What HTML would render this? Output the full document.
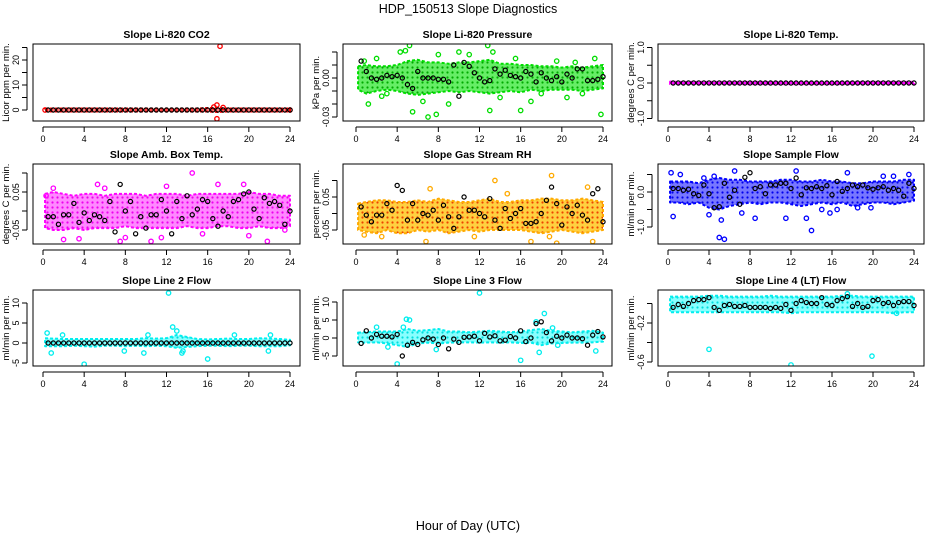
<!DOCTYPE html>
<html><head><meta charset="utf-8">
<style>
html,body{margin:0;padding:0;background:#fff;}
svg{display:block;font-family:"Liberation Sans",sans-serif;}
</style></head>
<body>
<svg id="c" width="936" height="540" xmlns="http://www.w3.org/2000/svg">
<defs id="defs"></defs>
<text x="468" y="13" text-anchor="middle" font-size="12.5">HDP_150513  Slope Diagnostics</text>
<text x="468" y="530" text-anchor="middle" font-size="12.5">Hour of Day (UTC)</text>
</svg>
<script>
// ---- shared data ----
const bandHours=[0.2,1,2,3,4,5,6,7,8,9,10,11,12,13,14,15,16,17,18,19,20,21,22,23,24];
const blackHours=[0.5,1,1.5,2,2.5,3,3.5,4,4.5,5,5.5,6,6.5,7,7.5,8,8.5,9,9.5,10,10.5,11,11.5,12,12.5,13,13.5,14,14.5,15,15.5,16,16.5,17,17.5,18,18.5,19,19.5,20,20.5,21,21.5,22,22.5,23,23.5,24];
const xTicks=[0,4,8,12,16,20,24];

// Panel 1: CO2
const co2Lo=[-0.6,-0.6,-0.6,-0.6,-0.6,-0.6,-0.6,-0.6,-0.6,-0.6,-0.6,-0.6,-0.6,-0.6,-0.6,-0.6,-0.6,-0.8,-0.6,-0.6,-0.6,-0.6,-0.6,-0.6,-0.6];
const co2Hi=[0.6,0.6,0.6,0.6,0.6,0.6,0.6,0.6,0.6,0.6,0.6,0.6,0.6,0.6,0.6,0.6,0.8,0.9,0.6,0.6,0.6,0.6,0.6,0.6,0.6];
const co2OutH=[17.2,16.9,16.9,17.5,16.6,0.2,24];
const co2OutV=[25.5,-3.5,2,1,1.2,0,0];
const co2Black=[0,0,0,0,0,0,0,0,0,0,0,0,0,0,0,0,0,0,0,0,0,0,0,0,0,0,0,0,0,0,0,0,0,0,0,0,0,0,0,0,0,0,0,0,0,0,0,0];
const co2Ticks=[0,5,10,15,20,25];
const co2Labels=["0","","10","","20",""];

// Panel 2: Pressure
const prLo=[-0.009,-0.012,-0.01,-0.009,-0.01,-0.012,-0.013,-0.012,-0.011,-0.01,-0.011,-0.01,-0.011,-0.012,-0.011,-0.01,-0.011,-0.009,-0.01,-0.009,-0.009,-0.009,-0.01,-0.009,-0.008];
const prHi=[0.009,0.01,0.009,0.009,0.01,0.013,0.014,0.012,0.012,0.011,0.012,0.012,0.013,0.014,0.011,0.011,0.01,0.01,0.009,0.009,0.008,0.009,0.008,0.009,0.01];
const prOutH=[5.2,7,5.5,7.8,4.8,10,12.8,13,16,23.8,1.2,2,6.5,13.3,17,20.5,23.2,9,3,15.5,11,18,22,8,4.3,19.5,0.8,14,2.5,21.3];
const prOutV=[0.025,-0.03,-0.026,-0.028,0.021,0.02,0.025,-0.025,-0.025,-0.028,-0.02,0.015,-0.018,0.02,-0.018,-0.015,0.015,-0.02,-0.012,0.015,0.018,-0.012,-0.012,0.018,0.02,0.013,0.013,-0.015,-0.014,0.012];
const prBlack=[0.013,0.005,0,-0.001,0,0.002,0.001,0.002,0,-0.005,-0.008,0.005,0,0,0,-0.001,-0.001,-0.003,0.01,-0.014,0.012,0.009,0.004,0,-0.003,-0.002,0.007,0.003,0.006,0.002,0.001,0,0.005,0.003,-0.003,0.004,0,-0.002,0.001,-0.003,0.003,0,0.007,0.007,-0.002,-0.002,-0.001,0.001];
const prTicks=[-0.03,-0.02,-0.01,0,0.01,0.02];
const prLabels=["-0.03","","","0.00","",""];

// Panel 3: Li-820 Temp
const tLo=[-0.03,-0.03,-0.03,-0.03,-0.03,-0.03,-0.03,-0.03,-0.03,-0.03,-0.03,-0.03,-0.03,-0.03,-0.03,-0.03,-0.03,-0.03,-0.03,-0.03,-0.03,-0.03,-0.03,-0.03,-0.03];
const tHi=[0.04,0.03,0.03,0.03,0.03,0.03,0.03,0.03,0.03,0.03,0.03,0.03,0.03,0.03,0.03,0.03,0.03,0.03,0.03,0.03,0.03,0.03,0.03,0.03,0.03];
const tOutH=[];
const tOutV=[];
const tBlack=co2Black.slice();
const tTicks=[-1,-0.5,0,0.5,1];
const tLabels=["-1.0","","0.0","","1.0"];

// Panel 4: Amb Box Temp
const abLo=[-0.045,-0.05,-0.05,-0.045,-0.05,-0.045,-0.045,-0.045,-0.04,-0.045,-0.045,-0.045,-0.045,-0.045,-0.04,-0.045,-0.045,-0.04,-0.04,-0.045,-0.045,-0.04,-0.045,-0.045,-0.04];
const abHi=[0.045,0.05,0.045,0.04,0.045,0.045,0.04,0.045,0.045,0.045,0.04,0.045,0.045,0.045,0.04,0.045,0.045,0.045,0.045,0.045,0.05,0.045,0.045,0.04,0.04];
const abOutH=[14.5,2,3.5,5.3,7.5,8,10.5,11.5,17,19.5,21.8,23.5,1,6,12,15.5,20,0.3];
const abOutV=[0.1,-0.075,-0.073,0.07,-0.08,-0.07,-0.08,-0.07,0.07,0.07,-0.08,-0.05,0.06,0.06,0.065,-0.06,-0.065,0.04];
const abBlack=[-0.015,-0.015,-0.035,-0.01,-0.01,0.02,-0.03,-0.005,-0.025,-0.01,-0.015,-0.025,0.025,-0.055,0.07,0.0,0.025,-0.06,-0.015,-0.045,-0.01,-0.01,0.03,0.0,-0.06,0.025,-0.02,0.04,-0.01,0.005,0.03,0.025,-0.02,-0.04,0.0,-0.015,0.025,0.03,0.045,0.05,0.005,-0.02,0.035,0.02,0.025,0.015,-0.035,0.0];
const abTicks=[-0.05,0,0.05,0.1];
const abLabels=["-0.05","","0.05",""];

// Panel 5: Gas Stream RH
const rhLo=[-0.05,-0.055,-0.06,-0.05,-0.06,-0.06,-0.05,-0.055,-0.05,-0.06,-0.055,-0.05,-0.055,-0.05,-0.05,-0.05,-0.05,-0.055,-0.06,-0.055,-0.05,-0.055,-0.06,-0.055,-0.05];
const rhHi=[0.03,0.035,0.04,0.04,0.035,0.035,0.04,0.035,0.045,0.04,0.035,0.035,0.04,0.045,0.035,0.035,0.04,0.04,0.045,0.045,0.04,0.04,0.045,0.04,0.035];
const rhOutH=[4,13.5,19,17,2.5,6.8,7.2,22.5,23,14.7,18.8,19.5,11.5,0.8];
const rhOutV=[-0.1,0.1,0.115,-0.085,-0.07,-0.085,0.075,0.08,-0.085,0.06,-0.07,-0.09,-0.07,-0.065];
const rhBlack=[0.02,-0.005,-0.025,-0.005,-0.005,0.03,0.01,0.085,0.07,-0.02,0.03,-0.02,0.0,-0.005,0.01,-0.02,0.025,-0.01,-0.045,-0.01,0.05,0.01,0.01,0.0,-0.01,0.045,-0.02,-0.045,0.015,-0.015,0.0,0.015,-0.03,-0.03,-0.025,0.0,0.04,0.08,0.03,-0.035,0.02,0.0,0.025,-0.005,-0.02,0.06,0.075,-0.025];
const rhTicks=[-0.05,0,0.05,0.1];
const rhLabels=["-0.05","","0.05",""];

// Panel 6: Sample Flow
const sfLo=[-0.3,-0.3,-0.35,-0.3,-0.45,-0.5,-0.4,-0.35,-0.3,-0.35,-0.3,-0.3,-0.35,-0.4,-0.35,-0.3,-0.35,-0.3,-0.4,-0.35,-0.3,-0.3,-0.35,-0.3,-0.25];
const sfHi=[0.3,0.3,0.3,0.25,0.35,0.4,0.35,0.35,0.3,0.3,0.3,0.35,0.35,0.3,0.3,0.35,0.3,0.3,0.25,0.25,0.3,0.3,0.3,0.35,0.35];
const sfOutH=[0.3,0.5,1.2,4,4.5,5,5.5,3.5,5.2,8.5,7.2,12.5,14,15,15.8,16.5,19.8,21,22,23.5,6.5,11.5,13.5,17.5,18.5];
const sfOutV=[0.55,-0.7,0.5,-0.65,0.45,-1.3,-1.35,0.4,-0.8,-0.75,-0.6,0.6,-1.1,-0.5,-0.6,-0.5,-0.45,0.45,0.45,0.5,0.6,-0.75,-0.75,0.55,-0.45];
const sfBlack=[0.1,0.1,0.05,0.08,-0.05,-0.1,0.2,-0.05,-0.45,-0.42,0.25,-0.15,0.05,-0.35,0.42,0.55,0.1,0.15,-0.05,0.2,0.2,0.25,0.25,0.1,0.4,-0.08,0.12,0.1,0.15,0.1,0.18,-0.08,0.3,0.02,0.1,0.2,0.15,0.2,0.12,0.08,0.12,0.15,0.05,0.1,0.05,-0.12,0.25,0.1];
const sfTicks=[-1,-0.5,0,0.5];
const sfLabels=["-1.0","","0.0",""];

// Panel 7: Line 2 Flow
const l2Lo=[-0.8,-0.8,-0.8,-0.7,-0.8,-0.9,-0.7,-0.7,-0.8,-0.7,-0.8,-0.7,-0.8,-1.2,-1.0,-0.8,-0.7,-0.7,-0.8,-0.7,-0.7,-0.8,-0.8,-0.8,-0.6];
const l2Hi=[1.2,1.1,1.0,1.0,1.0,1.0,1.0,1.0,1.0,1.0,1.2,1.1,1.2,2.0,1.5,1.0,0.9,1.0,1.1,1.0,1.0,1.2,1.1,1.0,0.8];
const l2OutH=[12.2,4,0.8,9.8,13.5,13.6,16,7.9,0.4,1.9,12.6,13.0,18.6,21.9,22.1,10.2];
const l2OutV=[12.5,-5.3,-2.5,-2.5,-2.5,-2,-4,-2,2.5,2,4,3,2,-2,2,2];
const l2Black=co2Black.slice();
const l2Ticks=[-5,0,5,10];
const l2Labels=["-5","0","5","10"];

// Panel 8: Line 3 Flow
const l3Lo=[-1.2,-1.3,-1.2,-1.5,-2,-2.5,-1.5,-1.3,-1.5,-1.3,-1.2,-1.2,-1.3,-1.2,-1.3,-1.2,-1.4,-1.3,-2,-1.5,-1.4,-1.3,-1.3,-1.2,-1.0];
const l3Hi=[1.5,1.6,1.8,1.8,1.8,2.5,2,2.2,2.5,1.8,1.8,1.6,1.8,2,1.8,1.6,1.8,2.2,2.5,2,1.8,1.6,1.8,2,1.5];
const l3OutH=[12,4,16,18.3,17.8,4.9,5.2,4.6,2,7.8,23.3,19.6,3.1,17.5,19.1];
const l3OutV=[12.5,-7.2,-6.2,6.8,-4,5.2,5,3,3,-3.2,-3.6,-2,-2.5,4.5,2.8];
const l3Black=[-1.5,2,0,1,0.5,0.5,0.3,1,-5,-2,-1.2,-1.8,-0.5,0,-0.3,-1.8,0,-3,-0.3,-1.2,0.2,0.3,0.5,-0.8,1.3,0.3,0.6,-0.8,-0.6,0.4,0,2,-1,0,4,4.5,1.5,-0.8,0.5,0,0.8,0,0,-0.2,-2,0.8,1.8,0.3];
const l3Ticks=[-5,0,5,10];
const l3Labels=["-5","0","5","10"];

// Panel 9: Line 4 (LT) Flow
const l4Lo=[-0.09,-0.09,-0.09,-0.09,-0.09,-0.09,-0.09,-0.09,-0.09,-0.09,-0.09,-0.09,-0.1,-0.09,-0.09,-0.09,-0.09,-0.09,-0.09,-0.09,-0.09,-0.09,-0.1,-0.09,-0.09];
const l4Hi=[0.07,0.07,0.07,0.07,0.08,0.08,0.07,0.07,0.07,0.07,0.08,0.07,0.07,0.07,0.07,0.07,0.07,0.08,0.08,0.07,0.07,0.07,0.07,0.07,0.07];
const l4OutH=[4,12,19.9,17.5,22.3];
const l4OutV=[-0.47,-0.63,-0.54,0.1,-0.1];
const l4Black=[-0.04,-0.01,-0.03,0.0,0.03,0.04,0.04,0.06,-0.04,-0.07,-0.02,-0.01,-0.03,-0.03,-0.02,-0.04,-0.04,-0.04,-0.04,-0.05,-0.04,-0.05,-0.01,-0.07,0.0,0.03,0.01,0.0,0.0,0.06,-0.01,-0.02,0.03,0.05,0.07,-0.03,0.0,-0.04,-0.03,0.03,0.04,0.0,0.01,-0.02,0.01,0.02,0.02,-0.02];
const l4Ticks=[-0.6,-0.4,-0.2,0];
const l4Labels=["-0.6","","-0.2",""];

const NS='http://www.w3.org/2000/svg';
const svg=document.getElementById('c');
const defs=document.getElementById('defs');
function mk(tag,attrs,parent){const e=document.createElementNS(NS,tag);for(const k in attrs)e.setAttribute(k,attrs[k]);(parent||svg).appendChild(e);return e;}

function panel(p){
  const g=mk('g',{});
  
  
  const xS=h=>p.x0+(p.x24-p.x0)*h/24;
  const yS=v=>p.yZero-p.ppu*v;
  // pattern of small rings to mimic dense point cloud
  const pid='pat'+p.id;
  const pat=mk('pattern',{id:pid,width:5,height:5,patternUnits:'userSpaceOnUse'},defs);
  mk('rect',{x:0,y:0,width:5,height:5,fill:p.fill},pat);
  mk('circle',{cx:2.5,cy:2.5,r:1.1,fill:p.dot},pat);
  const t=mk('text',{x:(p.L+p.R)/2,y:p.T-6,'text-anchor':'middle','font-size':10.5,'font-weight':'bold'},g);
  t.textContent=p.title;
  
  
  const cid='clip'+p.id;
  const cp=mk('clipPath',{id:cid},g);mk('rect',{x:p.L,y:p.T,width:p.R-p.L,height:p.B-p.T},cp);
  const d=mk('g',{'clip-path':'url(#'+cid+')'},g);
  let pts=[];
  for(let i=0;i<bandHours.length;i++)pts.push(xS(bandHours[i])+','+yS(p.hi[i]));
  for(let i=bandHours.length-1;i>=0;i--)pts.push(xS(bandHours[i])+','+yS(p.lo[i]));
  const band=mk('polygon',{points:pts.join(' '),fill:'url(#'+pid+')',stroke:p.color,'stroke-width':2,'stroke-dasharray':'3 2','stroke-linejoin':'round'},d);
  
  
  for(let i=0;i<p.oh.length;i++){
    const c=mk('circle',{cx:xS(p.oh[i]),cy:yS(p.ov[i]),r:2.2,fill:'none',stroke:p.color,'stroke-width':1.3},d);
    
    
  }
  for(let i=0;i<blackHours.length;i++){
    const c=mk('circle',{cx:xS(blackHours[i]),cy:yS(p.black[i]),r:2.1,fill:'none',stroke:'#000','stroke-width':1.2},d);
    
    
  }
  mk('rect',{x:p.L,y:p.T,width:p.R-p.L,height:p.B-p.T,fill:'none',stroke:'#000','stroke-width':1},g);
  mk('line',{x1:xS(0),x2:xS(24),y1:p.B+6,y2:p.B+6,stroke:'#000'},g);
  xTicks.forEach(h=>{
    mk('line',{x1:xS(h),x2:xS(h),y1:p.B+6,y2:p.B+11,stroke:'#000'},g);
    const l=mk('text',{x:xS(h),y:p.B+21,'text-anchor':'middle','font-size':9},g);
    l.textContent=h;
    
    
  });
  const ax=p.L-6;
  mk('line',{x1:ax,x2:ax,y1:yS(p.ticks[0]),y2:yS(p.ticks[p.ticks.length-1]),stroke:'#000'},g);
  p.ticks.forEach((v,i)=>{
    const y=yS(v);
    mk('line',{x1:ax-5,x2:ax,y1:y,y2:y,stroke:'#000'},g);
    if(p.labels[i]){
      const l=mk('text',{x:0,y:0,'text-anchor':'middle','font-size':9,transform:'translate('+(ax-8)+','+y+') rotate(-90)'},g);
      l.textContent=p.labels[i];
      
      
    }
  });
  const yt=mk('text',{x:0,y:0,'text-anchor':'middle','font-size':9.5,transform:'translate('+(p.L-24)+','+((p.T+p.B)/2)+') rotate(-90)'},g);
  yt.textContent=p.ylab;
  
  
}

const C1={L:33,R:300,x0:43,x24:290},C2={L:343,R:612,x0:356,x24:603},C3={L:658,R:924,x0:668,x24:914};
const R1={T:44,B:121},R2={T:164,B:244},R3={T:290,B:366};
panel(Object.assign({id:1,name:'panel-co2',title:'Slope Li-820 CO2',ylab:'Licor ppm per min.',yZero:110,ppu:2.5,color:'#ff0000',fill:'#ff8080',dot:'#ff0000',lo:co2Lo,hi:co2Hi,oh:co2OutH,ov:co2OutV,black:co2Black,ticks:co2Ticks,labels:co2Labels},C1,R1));
panel(Object.assign({id:2,name:'panel-pressure',title:'Slope Li-820 Pressure',ylab:'kPa per min.',yZero:78,ppu:1300,color:'#00dd00',fill:'#66ee66',dot:'#00aa00',lo:prLo,hi:prHi,oh:prOutH,ov:prOutV,black:prBlack,ticks:prTicks,labels:prLabels},C2,R1));
panel(Object.assign({id:3,name:'panel-temp',title:'Slope Li-820 Temp.',ylab:'degrees C per min.',yZero:83,ppu:35.5,color:'#ff00ff',fill:'#ff00ff',dot:'#ff00ff',lo:tLo,hi:tHi,oh:tOutH,ov:tOutV,black:tBlack,ticks:tTicks,labels:tLabels},C3,R1));
panel(Object.assign({id:4,name:'panel-amb-box-temp',title:'Slope Amb. Box Temp.',ylab:'degrees C per min.',yZero:211,ppu:380,color:'#ff00ff',fill:'#ff88ff',dot:'#ee00ee',lo:abLo,hi:abHi,oh:abOutH,ov:abOutV,black:abBlack,ticks:abTicks,labels:abLabels},C1,R2));
panel(Object.assign({id:5,name:'panel-gas-stream-rh',title:'Slope Gas Stream RH',ylab:'percent per min.',yZero:213.5,ppu:330,color:'#ffaa00',fill:'#ffd040',dot:'#ee4400',lo:rhLo,hi:rhHi,oh:rhOutH,ov:rhOutV,black:rhBlack,ticks:rhTicks,labels:rhLabels},C2,R2));
panel(Object.assign({id:6,name:'panel-sample-flow',title:'Slope Sample Flow',ylab:'ml/min per min.',yZero:192,ppu:35,color:'#0000ff',fill:'#7777ff',dot:'#0000ee',lo:sfLo,hi:sfHi,oh:sfOutH,ov:sfOutV,black:sfBlack,ticks:sfTicks,labels:sfLabels},C3,R2));
panel(Object.assign({id:7,name:'panel-line2-flow',title:'Slope Line 2 Flow',ylab:'ml/min per min.',yZero:343,ppu:4,color:'#00eeee',fill:'#88ffff',dot:'#00dddd',lo:l2Lo,hi:l2Hi,oh:l2OutH,ov:l2OutV,black:l2Black,ticks:l2Ticks,labels:l2Labels},C1,R3));
panel(Object.assign({id:8,name:'panel-line3-flow',title:'Slope Line 3 Flow',ylab:'ml/min per min.',yZero:338,ppu:3.6,color:'#00eeee',fill:'#88ffff',dot:'#00dddd',lo:l3Lo,hi:l3Hi,oh:l3OutH,ov:l3OutV,black:l3Black,ticks:l3Ticks,labels:l3Labels},C2,R3));
panel(Object.assign({id:9,name:'panel-line4-flow',title:'Slope Line 4 (LT) Flow',ylab:'ml/min per min.',yZero:303.5,ppu:97.5,color:'#00eeee',fill:'#88ffff',dot:'#00dddd',lo:l4Lo,hi:l4Hi,oh:l4OutH,ov:l4OutV,black:l4Black,ticks:l4Ticks,labels:l4Labels},C3,R3));
</script>
</body></html>
